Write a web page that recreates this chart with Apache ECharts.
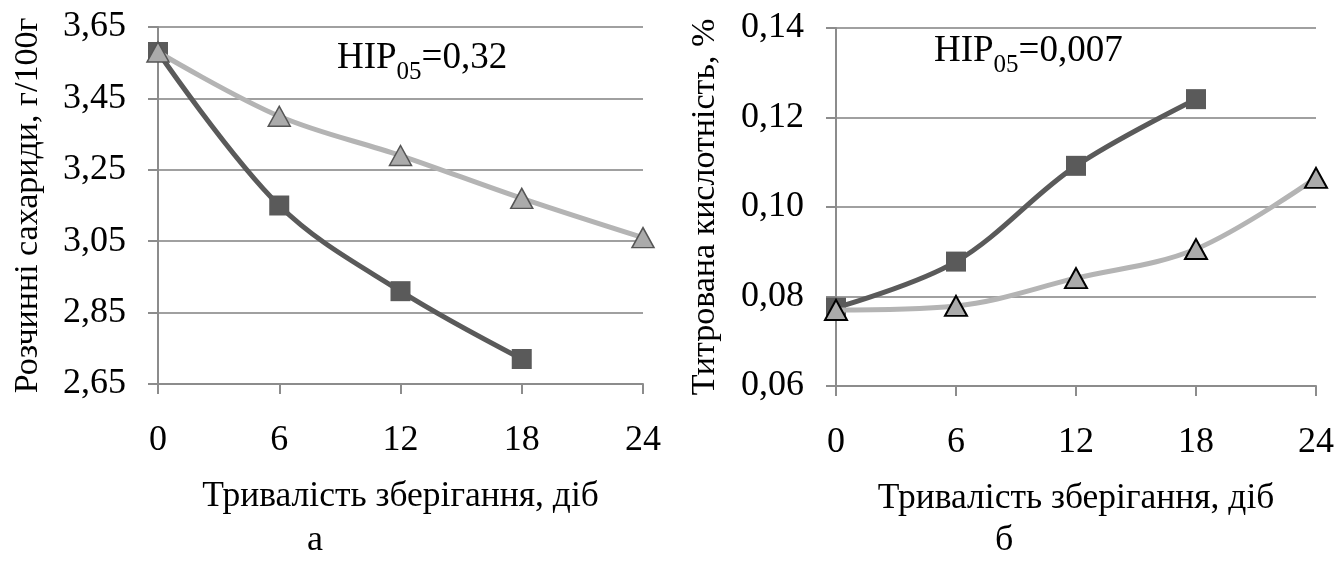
<!DOCTYPE html>
<html>
<head>
<meta charset="utf-8">
<script src="https://cdn.jsdelivr.net/npm/echarts@6/dist/echarts.min.js"></script>
<style>
html,body{margin:0;padding:0;background:#fff;}
#c{width:1337px;height:564px;}
</style>
</head>
<body>
<div id="c"></div>
<script>
// Days of storage
const days = [0, 6, 12, 18, 24];
// Chart а: soluble sugars, g/100g
const sugarsDark = [3.58, 3.15, 2.91, 2.72];
const sugarsLight = [3.58, 3.40, 3.29, 3.17, 3.06];
// Chart б: titratable acidity, %
const acidDark = [0.0775, 0.0878, 0.1092, 0.1241];
const acidLight = [0.0770, 0.0779, 0.0841, 0.0906, 0.1065];
// Text
const xTitle = 'Тривалість зберігання, діб';
const yTitleA = 'Розчинні сахариди, г/100г';
const yTitleB = 'Титрована кислотність, %';
const hipA = ['НІР', '05', '=0,32'];
const hipB = ['НІР', '05', '=0,007'];
const panelA = 'а';
const panelB = 'б';

const FONT = '"Liberation Serif", "Times New Roman", serif';
const GRID = '#a0a0a0';
const AXIS = '#8c8c8c';
const DARK = '#5a5a5a';
const LIGHT = '#b4b4b4';

function pairs(xs, ys) { return ys.map((y, i) => [xs[i], y]); }

function xAxisCfg(idx) {
  return {
    type: 'value', gridIndex: idx, min: 0, max: 24, interval: 6,
    axisLine: { show: true, lineStyle: { color: AXIS, width: 2 } },
    axisTick: { show: true, length: 10, lineStyle: { color: AXIS, width: 2 } },
    splitLine: { show: false },
    axisLabel: { margin: 39, fontFamily: FONT, fontSize: 36, color: '#000' },
    name: xTitle, nameLocation: 'middle', nameGap: 95,
    nameTextStyle: { fontFamily: FONT, fontSize: 35.5, color: '#000', verticalAlign: 'top' }
  };
}
function yAxisCfg(idx, min, max, interval, name, gap) {
  return {
    type: 'value', gridIndex: idx, min: min, max: max, interval: interval,
    axisLine: { show: true, lineStyle: { color: AXIS, width: 2 } },
    axisTick: { show: true, length: 10, lineStyle: { color: AXIS, width: 2 } },
    splitLine: { show: true, lineStyle: { color: GRID, width: 2 } },
    axisLabel: { margin: 32, fontFamily: FONT, fontSize: 36, color: '#000',
      formatter: v => v.toFixed(2).replace('.', ',') },
    name: name, nameLocation: 'middle', nameGap: gap, nameRotate: 90,
    nameTextStyle: { fontFamily: FONT, fontSize: 34, color: '#000' }
  };
}
function hipText(parts, x, y) {
  return {
    type: 'text', left: x, top: y,
    style: {
      text: '{a|' + parts[0] + '}{s|' + parts[1] + '}{a|' + parts[2] + '}',
      rich: {
        a: { fontFamily: FONT, fontSize: 37, fill: '#000', lineHeight: 52 },
        s: { fontFamily: FONT, fontSize: 25, fill: '#000', verticalAlign: 'bottom', lineHeight: 24 }
      }
    }
  };
}

const chart = echarts.init(document.getElementById('c'), null, { renderer: 'canvas' });
chart.setOption({
  backgroundColor: '#fff',
  animation: false,
  grid: [
    { left: 158, top: 27, width: 485, height: 357 },
    { left: 836, top: 28, width: 480, height: 358 }
  ],
  xAxis: [xAxisCfg(0), xAxisCfg(1)],
  yAxis: [
    yAxisCfg(0, 2.65, 3.65, 0.2, yTitleA, 113),
    yAxisCfg(1, 0.06, 0.14, 0.02, yTitleB, 114)
  ],
  series: [
    { type: 'line', xAxisIndex: 0, yAxisIndex: 0, data: pairs(days, sugarsDark), smooth: 0.35,
      lineStyle: { color: DARK, width: 5 }, symbol: 'rect', symbolSize: 20,
      itemStyle: { color: DARK }, z: 2 },
    { type: 'line', xAxisIndex: 0, yAxisIndex: 0, data: pairs(days, sugarsLight), smooth: 0.35,
      lineStyle: { color: LIGHT, width: 5 }, symbol: 'triangle', symbolSize: [22, 20],
      itemStyle: { color: '#ababab', borderColor: '#555', borderWidth: 1.5 }, z: 3 },
    { type: 'line', xAxisIndex: 1, yAxisIndex: 1, data: pairs(days, acidDark), smooth: 0.35,
      lineStyle: { color: DARK, width: 5 }, symbol: 'rect', symbolSize: 20,
      itemStyle: { color: DARK }, z: 2 },
    { type: 'line', xAxisIndex: 1, yAxisIndex: 1, data: pairs(days, acidLight), smooth: 0.35,
      lineStyle: { color: LIGHT, width: 5 }, symbol: 'triangle', symbolSize: [22, 20],
      itemStyle: { color: '#ababab', borderColor: '#000', borderWidth: 2 }, z: 3 }
  ],
  graphic: [
    hipText(hipA, 337, 40),
    hipText(hipB, 934, 33),
    { type: 'text', left: 307, top: 523, style: { text: panelA, font: '36px ' + FONT, fill: '#000' } },
    { type: 'text', left: 995, top: 523, style: { text: panelB, font: '36px ' + FONT, fill: '#000' } }
  ]
});
</script>
</body>
</html>
